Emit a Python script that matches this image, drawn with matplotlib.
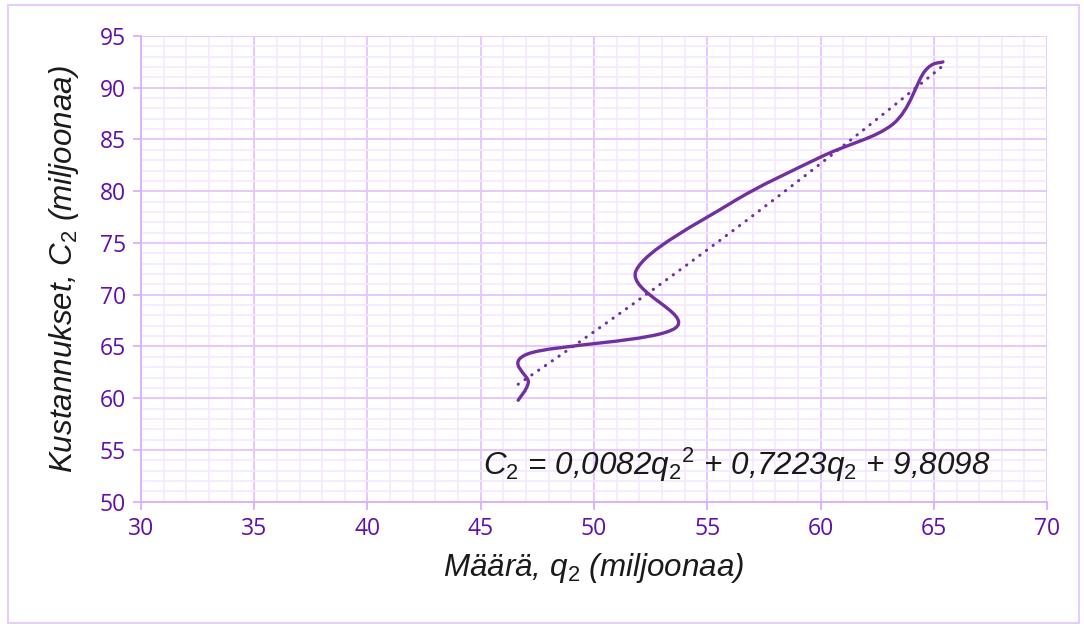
import matplotlib
matplotlib.use("Agg")
import matplotlib.pyplot as plt
from matplotlib.path import Path
from matplotlib.patches import PathPatch, Rectangle
import numpy as np

# data points (q2, C2)
q2 = [46.65, 47.1, 47.1, 53.6, 51.85, 56.0, 60.0, 63.2, 64.6, 65.4]
c2 = [59.8, 61.5, 64.3, 66.8, 72.3, 78.8, 83.3, 86.5, 91.6, 92.5]
# trendline coefficients (a*q^2 + b*q + c)
trend = [0.0082, 0.7223, 9.8098]
xticks = [30, 35, 40, 45, 50, 55, 60, 65, 70]
yticks = [50, 55, 60, 65, 70, 75, 80, 85, 90, 95]

purple = "#7030A0"
tick_col = "#6010A8"
major_grid = "#E6C8FF"
minor_grid = "#F5E8FF"

plt.rcParams["mathtext.fontset"] = "custom"
plt.rcParams["mathtext.rm"] = "Liberation Sans"
plt.rcParams["mathtext.it"] = "Liberation Sans:italic"


def smooth_path(xs, ys):
    # excel style smoothed line: cubic bezier with catmull-rom tangents
    pts = np.column_stack([xs, ys])
    n = len(pts)
    verts = [pts[0]]
    codes = [Path.MOVETO]
    for i in range(n - 1):
        p0 = pts[i - 1] if i > 0 else pts[i]
        p1 = pts[i]
        p2 = pts[i + 1]
        p3 = pts[i + 2] if i + 2 < n else pts[i + 1]
        verts += [p1 + (p2 - p0) / 6, p2 - (p3 - p1) / 6, p2]
        codes += [Path.CURVE4] * 3
    return Path(verts, codes)


fig = plt.figure(figsize=(10.84, 6.28), dpi=100)
ax = fig.add_axes([0.130, 0.2011, 0.836, 0.7416])

fig.patches.append(Rectangle((0.007, 0.008), 0.988, 0.984, transform=fig.transFigure,
                             fill=False, edgecolor="#E6CCFF", linewidth=1.5))

ax.set_xlim(30, 70)
ax.set_ylim(50, 95)
ax.set_xticks(xticks)
ax.set_yticks(yticks)
ax.set_xticks(np.arange(30, 71, 1), minor=True)
ax.set_yticks(np.arange(50, 96, 1), minor=True)
ax.grid(which="minor", color=minor_grid, linewidth=1.2)
ax.grid(which="major", color=major_grid, linewidth=1.4)
ax.set_axisbelow(True)

for s in ["top", "right"]:
    ax.spines[s].set_visible(False)
for s in ["left", "bottom"]:
    ax.spines[s].set_color("#D9B0FF")
    ax.spines[s].set_linewidth(1.3)
ax.tick_params(which="major", length=6, width=1.3, color="#D9B0FF",
               labelcolor=tick_col, labelsize=16.5, pad=5)
ax.tick_params(which="minor", length=0)
for lab in ax.get_xticklabels() + ax.get_yticklabels():
    lab.set_family("Open Sans")

# smoothed data line
ax.add_patch(PathPatch(smooth_path(q2, c2), facecolor="none", edgecolor=purple,
                       linewidth=2.4, capstyle="round", zorder=3))

# polynomial trendline
tx = np.linspace(min(q2), max(q2), 200)
ty = np.polyval(trend, tx)
ax.plot(tx, ty, color=purple, linewidth=2.2, linestyle=(0, (0.1, 2.6)),
        dash_capstyle="round", zorder=3)

eq = (r"C$_\mathrm{2}$ = 0,0082q$_\mathrm{2}$$^\mathrm{2}$ + 0,7223q$_\mathrm{2}$"
      r" + 9,8098")
ax.text(45.1, 53.6, eq, fontsize=22.6, style="italic", family="Liberation Sans",
        color="#1A1A1A", va="center", ha="left")

ax.set_xlabel(r"Määrä, q$_\mathrm{2}$ (miljoonaa)", fontsize=22.6, style="italic",
              family="Liberation Sans", color="#1A1A1A", labelpad=7)
ax.set_ylabel(r"Kustannukset, C$_\mathrm{2}$ (miljoonaa)", fontsize=22.6,
              style="italic", family="Liberation Sans", color="#1A1A1A", labelpad=13)

fig.savefig("out.png", dpi=100)
